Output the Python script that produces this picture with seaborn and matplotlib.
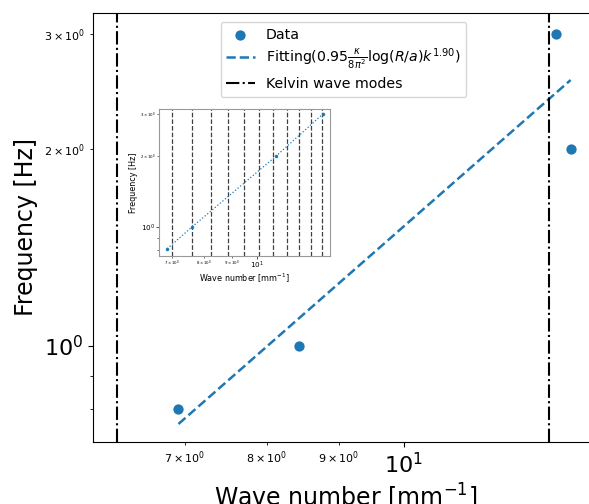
import matplotlib
matplotlib.use("Agg")
import matplotlib.pyplot as plt
import numpy as np
import seaborn as sns

# Measured dispersion points
wave_number = [6.93, 8.43, 12.81, 13.12]        # mm^-1
frequency = [0.80, 1.00, 3.00, 2.00]            # Hz

# Power-law fit f = A * k^p
fit_amp = 0.0192
fit_exp = 1.90

# Kelvin wave mode positions
kelvin_modes = [6.27, 12.66]

# Inset: reference run with the full set of mode lines
inset_k = [6.86, 7.61, 10.85, 13.18]
inset_f = [0.81, 1.00, 2.00, 3.00]
inset_modes = [7.00, 7.61, 8.24, 8.86, 9.48, 10.09, 10.70, 11.34, 11.94, 12.54, 13.15]

W, H, DPI = 589, 504, 100
fig = plt.figure(figsize=(W / DPI, H / DPI), dpi=DPI)

# Main axes (extends a little beyond the right edge of the canvas)
ax = fig.add_axes([93 / W, 62 / H, 506 / W, 429 / H])
ax.set_xscale("log")
ax.set_yscale("log")

sns.scatterplot(x=wave_number, y=frequency, ax=ax, s=55, color="#1f77b4",
                linewidth=0, label="Data", zorder=3)

fit_k = np.array([min(wave_number), max(wave_number)])
fit_f = fit_amp * fit_k ** fit_exp
sns.lineplot(x=fit_k, y=fit_f, ax=ax, color="#1f77b4", lw=1.8, ls="--",
             label=r"Fitting$(0.95\frac{\kappa}{8\pi^2}\log(R/a)k^{1.90})$")

for i, km in enumerate(kelvin_modes):
    ax.axvline(km, color="black", ls="-.", lw=1.5,
               label="Kelvin wave modes" if i == 0 else None)

ax.set_xlim(6.03, 13.74)
ax.set_ylim(0.713, 3.236)
ax.set_xlabel(r"Wave number [mm$^{-1}$]", fontsize=17)
ax.set_ylabel("Frequency [Hz]", fontsize=17)
ax.tick_params(which="major", labelsize=16)
ax.tick_params(which="minor", labelsize=8)
ax.legend(loc="upper center", fontsize=10.2, labelspacing=0.35,
          bbox_to_anchor=(0.495, 0.995))

# Inset
axi = fig.add_axes([159 / W, 248 / H, 171 / W, 147 / H])
axi.set_xscale("log")
axi.set_yscale("log")
for km in inset_modes:
    axi.axvline(km, color="black", ls="--", lw=0.9, alpha=0.75)
sns.lineplot(x=inset_k, y=inset_f, ax=axi, color="#1f77b4", lw=0.9, ls=":",
             marker="o", markersize=2.5, markeredgewidth=0)
axi.set_xlim(6.63, 13.58)
axi.set_ylim(0.755, 3.15)
axi.set_xlabel(r"Wave number [mm$^{-1}$]", fontsize=5.8, labelpad=0.5)
axi.set_ylabel("Frequency [Hz]", fontsize=5.8, labelpad=1.5)
axi.tick_params(which="major", labelsize=5.2, length=2, width=0.5, pad=1)
axi.tick_params(which="minor", labelsize=2.8, length=1.2, width=0.4, pad=1)
for sp in axi.spines.values():
    sp.set_color("0.6")
    sp.set_linewidth(0.8)

fig.savefig("out.png", dpi=DPI)
